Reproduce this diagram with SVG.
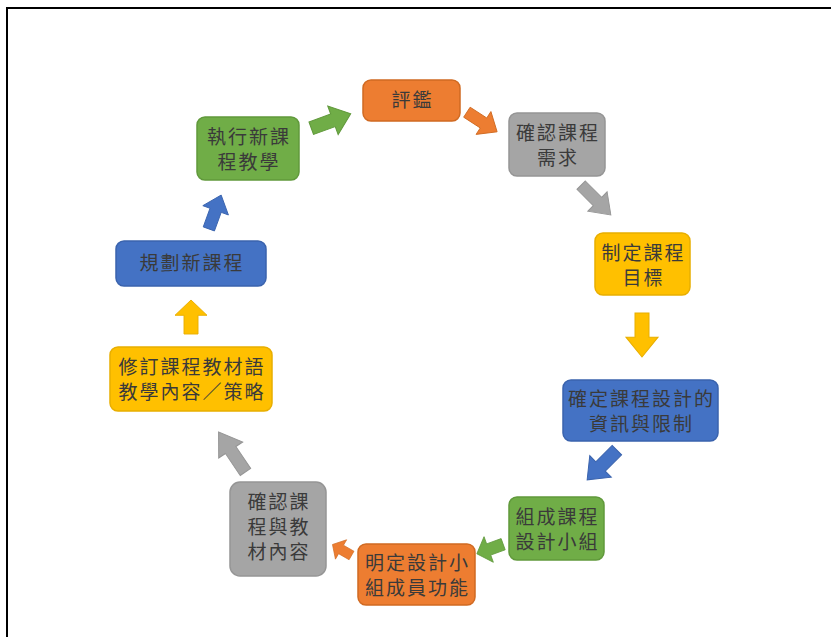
<svg xmlns="http://www.w3.org/2000/svg" width="831" height="637" viewBox="0 0 831 637">
<style>
.n{stroke-width:1.5}
.t{font-family:"Noto Sans CJK TC","Noto Sans CJK SC",sans-serif;font-size:19px;fill:#3a3a3a;text-anchor:middle;letter-spacing:2px}
.or{fill:#ED7D31;stroke:#d06a22}
.gr{fill:#A5A5A5;stroke:#959595}
.ye{fill:#FFC000;stroke:#e8ae00}
.bl{fill:#4472C4;stroke:#3a63ad}
.gn{fill:#70AD47;stroke:#60993b}
</style>
<defs>
<path id="ar" d="M-20,-7 L2,-7 L2,-16 L20,0 L2,16 L2,7 L-20,7 Z"/>
</defs>
<rect width="831" height="637" fill="#fff"/>
<path d="M7,637 L7,8 L831,8" fill="none" stroke="#000" stroke-width="2"/>

<g id="connectors">
<use href="#ar" class="gn" transform="translate(331,121) rotate(-20) scale(1.05,0.95)"/>
<use href="#ar" class="or" transform="translate(482,122) rotate(33) scale(0.9,0.85)"/>
<use href="#ar" class="gr" transform="translate(596,200) rotate(45) scale(1.05,0.85)"/>
<use href="#ar" class="ye" transform="translate(642,335) rotate(90) scale(1.1,1)"/>
<use href="#ar" class="bl" transform="translate(602,465) rotate(135) scale(1.05,0.95)"/>
<use href="#ar" class="gn" transform="translate(490,549) rotate(160) scale(0.7,0.85)"/>
<use href="#ar" class="or" transform="translate(342,550) rotate(-150) scale(0.55,0.7)"/>
<use href="#ar" class="gr" transform="translate(232,452) rotate(-124) scale(1.2,0.9)"/>
<use href="#ar" class="ye" transform="translate(191,317) rotate(-90) scale(0.85,1)"/>
<use href="#ar" class="bl" transform="translate(215,212) rotate(-70) scale(0.9,0.85)"/>
</g>

<g id="n1"><rect class="n or" x="363" y="80" width="97" height="41" rx="8"/><text class="t" x="412.5" y="107">評鑑</text></g>
<g id="n2"><rect class="n gr" x="509" y="113" width="96" height="63" rx="8"/><text class="t" x="558" y="140">確認課程</text><text class="t" x="558" y="165">需求</text></g>
<g id="n3"><rect class="n ye" x="595" y="233" width="95" height="62" rx="8"/><text class="t" x="643.5" y="260">制定課程</text><text class="t" x="643.5" y="285">目標</text></g>
<g id="n4"><rect class="n bl" x="563" y="380" width="155" height="61" rx="8"/><text class="t" x="641.5" y="406">確定課程設計的</text><text class="t" x="641.5" y="431">資訊與限制</text></g>
<g id="n5"><rect class="n gn" x="509" y="497" width="95" height="63" rx="8"/><text class="t" x="557.5" y="524">組成課程</text><text class="t" x="557.5" y="549">設計小組</text></g>
<g id="n6"><rect class="n or" x="358" y="544" width="117" height="61" rx="8"/><text class="t" x="417.5" y="570">明定設計小</text><text class="t" x="417.5" y="595">組成員功能</text></g>
<g id="n7"><rect class="n gr" x="230" y="482" width="96" height="94" rx="10"/><text class="t" x="279" y="509">確認課</text><text class="t" x="279" y="534">程與教</text><text class="t" x="279" y="559">材內容</text></g>
<g id="n8"><rect class="n ye" x="110" y="347" width="162" height="64" rx="8"/><text class="t" x="192" y="374">修訂課程教材語</text><text class="t" x="192" y="399">教學內容／策略</text></g>
<g id="n9"><rect class="n bl" x="116" y="241" width="150" height="45" rx="8"/><text class="t" x="192" y="270">規劃新課程</text></g>
<g id="n10"><rect class="n gn" x="197" y="117" width="102" height="63" rx="8"/><text class="t" x="249" y="144">執行新課</text><text class="t" x="249" y="169">程教學</text></g>
</svg>
